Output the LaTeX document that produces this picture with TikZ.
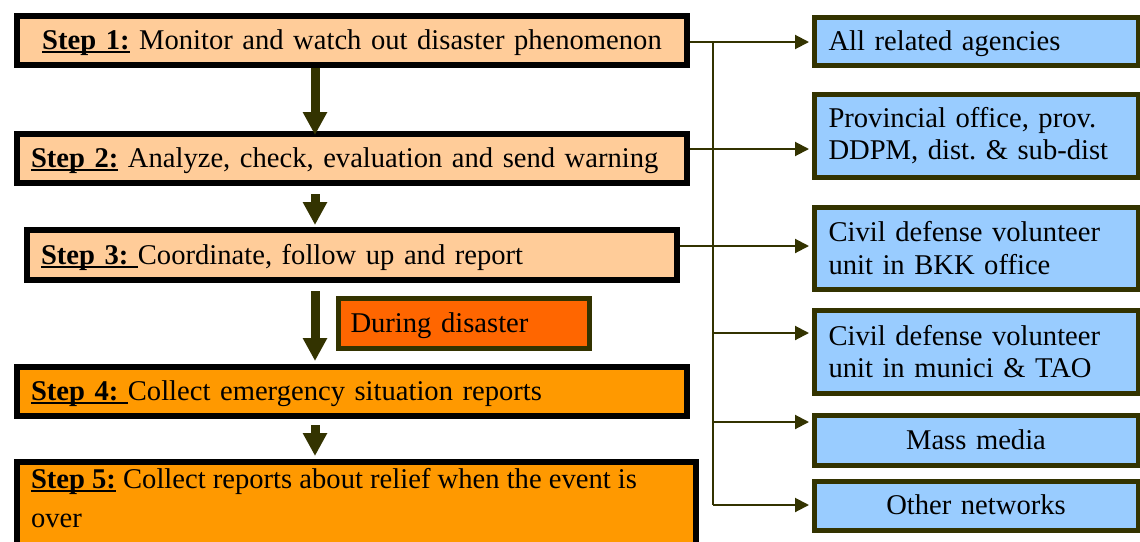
\documentclass[tikz,border=0pt]{standalone}
\usepackage{fontspec}
\setmainfont{Liberation Serif}
\usetikzlibrary{arrows.meta}
\definecolor{peach}{HTML}{FFCC99}
\definecolor{orangebox}{HTML}{FF9900}
\definecolor{redorange}{HTML}{FF6600}
\definecolor{skyblue}{HTML}{99CCFF}
\definecolor{darkolive}{HTML}{333300}
\newcommand\ulstep[1]{\leavevmode\setbox0\hbox{#1}\rlap{\rule[-3.5pt]{\wd0}{2pt}}\box0\relax}
\begin{document}
\frenchspacing
\begin{tikzpicture}[x=1pt,y=-1pt,
  font=\fontsize{28.6}{32.5}\selectfont\frenchspacing,
  stepbox/.style={draw=black,line width=6pt,rectangle,inner ysep=0pt,inner xsep=14pt,anchor=north west,align=left},
  lowtext/.style={text height=24.4pt,text depth=6.2pt},
  bluebox/.style={draw=darkolive,fill=skyblue,line width=5pt,rectangle,inner ysep=0pt,inner xsep=14.5pt,anchor=north west,align=left,text width=295pt},
  phasebox/.style={draw=darkolive,fill=redorange,line width=5pt,rectangle,inner ysep=0pt,inner xsep=12.5pt,anchor=north west,align=left,text width=226pt,minimum height=50pt},
  bigarrow/.style={draw=darkolive,line width=9pt,-{Triangle[width=23pt,length=23pt]}},
  link/.style={draw=darkolive,line width=2pt,-{Triangle[width=14pt,length=14pt]},shorten >=2.5pt},
  busline/.style={draw=darkolive,line width=2pt}]
\useasboundingbox (0,0) rectangle (1140,541);
\clip (0,0) rectangle (1140,541);
\fill[white] (0,0) rectangle (1140,541);

% step boxes
\node[stepbox,fill=peach,align=center,text width=642pt,minimum height=49pt,lowtext] (s1) at (14,13)
  {\ulstep{\textbf{Step 1:}} Monitor and watch out disaster phenomenon};
\node[stepbox,fill=peach,text width=642pt,minimum height=49pt,lowtext] (s2) at (14,131)
  {\ulstep{\textbf{Step 2:}} Analyze, check, evaluation and send warning};
\node[stepbox,fill=peach,text width=622pt,minimum height=50pt,lowtext] (s3) at (24,227)
  {\ulstep{\textbf{Step 3:}\ }Coordinate, follow up and report};
\node[phasebox,lowtext] (dd) at (335.5,295.5) {During disaster};
\node[stepbox,fill=orangebox,text width=642pt,minimum height=49pt,lowtext] (s4) at (14,364)
  {\ulstep{\textbf{Step 4:}\ }Collect emergency situation reports};
\node[stepbox,fill=orangebox,inner ysep=6pt,align=none] (s5) at (14,459)
  {\parbox[t][120pt][t]{651pt}{\baselineskip=39pt\ulstep{\textbf{Step 5:}} Collect reports about relief when the event is\\ over}};

% recipient boxes
\node[bluebox,minimum height=48pt,lowtext] (b1) at (811.5,14.5) {All related agencies};
\node[bluebox,minimum height=83pt] (b2) at (811.5,91.5) {Provincial office, prov.\\ DDPM, dist. \& sub-dist};
\node[bluebox,minimum height=82pt] (b3) at (811.5,204.5) {Civil defense volunteer\\ unit in BKK office};
\node[bluebox,minimum height=83pt] (b4) at (811.5,307.5) {Civil defense volunteer\\ unit in munici \& TAO};
\node[bluebox,align=center,minimum height=50pt,lowtext] (b5) at (811.5,412.5) {Mass media};
\node[bluebox,align=center,minimum height=49pt,lowtext] (b6) at (811.5,478.5) {Other networks};

% coordinates
\coordinate (ax) at (315,0);
\coordinate (r1) at (713,42);
\coordinate (r2) at (713,149);
\coordinate (r3) at (713,246);
\coordinate (r4) at (713,333);
\coordinate (r5) at (713,422);
\coordinate (r6) at (713,505);

% vertical flow arrows
\draw[bigarrow,shorten >=-4pt] (s1.south -| ax) -- (s2.north -| ax);
\draw[bigarrow,shorten <=8pt,shorten >=2pt] (s2.south -| ax) -- (s3.north -| ax);
\draw[bigarrow,shorten <=8pt,shorten >=3pt] (s3.south -| ax) -- (s4.north -| ax);
\draw[bigarrow,shorten <=6pt,shorten >=3pt] (s4.south -| ax) -- (s5.north -| ax);

% distribution lines
\draw[busline] (r1) -- (r6);
\draw[link] (s1.east |- r1) -- (b1.west |- r1);
\draw[link] (s2.east |- r2) -- (b2.west |- r2);
\draw[link] (s3.east |- r3) -- (b3.west |- r3);
\draw[link] (r4) -- (b4.west |- r4);
\draw[link] (r5) -- (b5.west |- r5);
\draw[link] (r6) -- (b6.west |- r6);
\end{tikzpicture}
\end{document}
